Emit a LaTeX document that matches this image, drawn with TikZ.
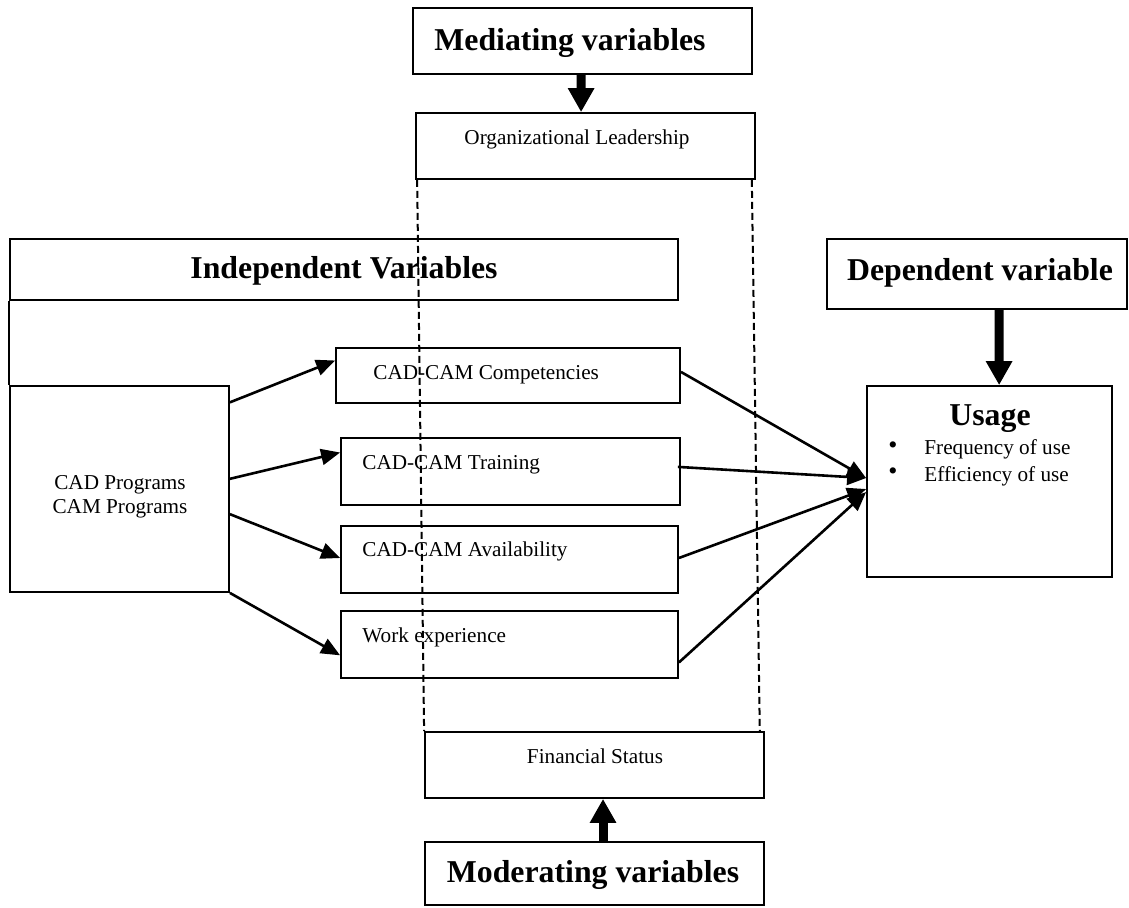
\documentclass[tikz,border=0pt]{standalone}
\usepackage{fontspec}
\setmainfont{Liberation Serif}
\usetikzlibrary{arrows.meta,calc,fit}

\tikzset{
  box/.style={draw, line width=0.9pt, inner sep=0pt},
  small/.style={font=\fontsize{10.6}{12.7}\selectfont, inner sep=0pt},
  big/.style={font=\fontsize{15.9}{19}\selectfont\bfseries, inner sep=0pt},
  dot/.style={font=\fontsize{13}{13}\selectfont, inner sep=0pt},
  link/.style={line width=1.3pt, -{Triangle[length=9.5pt,width=8pt]}},
  heavy/.style={line width=4.5pt, -{Triangle[length=12pt,width=12.5pt]}},
  guide/.style={line width=1pt, dash pattern=on 3.5pt off 2pt},
}

\begin{document}
\begin{tikzpicture}[x=0.5pt,y=-0.5pt]
\useasboundingbox (0,0) rectangle (1129,907);

% boxes
\node[box, fit={(413,8) (752,74)}] (med) {};
\node[box, fit={(416,113) (755,179)}] (org) {};
\node[box, fit={(10,239) (678,300)}] (iv) {};
\node[box, fit={(827,239) (1127,309)}] (dep) {};
\node[box, fit={(10,386) (229,592)}] (cad) {};
\node[box, fit={(336,348) (680,403)}] (comp) {};
\node[box, fit={(341,438) (680,505)}] (train) {};
\node[box, fit={(341,526) (678,593)}] (avail) {};
\node[box, fit={(341,611) (678,678)}] (work) {};
\node[box, fit={(867,386) (1112,577)}] (usage) {};
\node[box, fit={(425,732) (764,798)}] (fin) {};
\node[box, fit={(425,842) (764,905)}] (mod) {};

% side line joining the independent-variables header to the programs box
\draw[line width=0.9pt] (iv.south west) -- (cad.north west);

% texts
\node[big, anchor=base] (tmed) at (570,50) {Mediating variables};
\node[small, anchor=base] (torg) at (577,144) {Organizational Leadership};
\node[big, anchor=base] (tiv) at (344,278) {Independent Variables};
\node[big, anchor=base] (tdep) at (980,280) {Dependent variable};
\node[small, anchor=base, align=center] (tcad) at (120,489) {CAD Programs};
\node[small, anchor=base, align=center] (tcam) at (120,513) {CAM Programs};
\node[small, anchor=base west] (tcomp) at (373,379) {CAD-CAM Competencies};
\node[small, anchor=base west] (ttrain) at (362,469) {CAD-CAM Training};
\node[small, anchor=base west] (tavail) at (362,556) {CAD-CAM Availability};
\node[small, anchor=base west] (twork) at (362,642) {Work experience};
\node[big, anchor=base] (tusage) at (990,425) {Usage};
\node[dot] (b1) at (893,448) {•};
\node[dot] (b2) at (893,474) {•};
\node[small, anchor=base west] (tfreq) at (924,454) {Frequency of use};
\node[small, anchor=base west] (teff) at (924,481) {Efficiency of use};
\node[small, anchor=base] (tfin) at (595,763) {Financial Status};
\node[big, anchor=base] (tmod) at (593,882) {Moderating variables};

% thick arrows from the variable headers
\draw[heavy] ($(med.south west)!0.496!(med.south east)$) -- ($(org.north west)!0.487!(org.north east)$);
\draw[heavy] ($(dep.south west)!0.573!(dep.south east)$) -- ($(usage.north west)!0.539!(usage.north east)$);
\draw[heavy] ($(mod.north west)!0.525!(mod.north east)$) -- ($(fin.south west)!0.525!(fin.south east)$);

% arrows from the programs box
\draw[link] ($(cad.north east)!0.083!(cad.south east)$) -- ($(comp.north west)!0.236!(comp.south west)$);
\draw[link] ($(cad.north east)!0.451!(cad.south east)$) -- ($(train.north west)!0.224!(train.south west)$);
\draw[link] ($(cad.north east)!0.621!(cad.south east)$) -- ($(avail.north west)!0.478!(avail.south west)$);
\draw[link] (cad.south east) -- ($(work.north west)!0.657!(work.south west)$);

% arrows into usage
\draw[link] ($(comp.north east)!0.436!(comp.south east)$) -- ($(usage.north west)!0.482!(usage.south west)$);
\draw[link] ($(train.north east)!0.433!(train.south east)+(-3,0)$) -- ($(usage.north west)!0.482!(usage.south west)$);
\draw[link] ($(avail.north east)!0.478!(avail.south east)$) -- ($(usage.north west)!0.539!(usage.south west)$);
\draw[link] ($(work.north east)!0.761!(work.south east)$) -- ($(usage.north west)!0.555!(usage.south west)$);

% dashed guides from leadership to financial status
\draw[guide] ($(org.south west)!0.006!(org.south east)$) -- (fin.north west);
\draw[guide] ($(org.south west)!0.988!(org.south east)$) -- ($(fin.north west)!0.985!(fin.north east)$);
\end{tikzpicture}
\end{document}
